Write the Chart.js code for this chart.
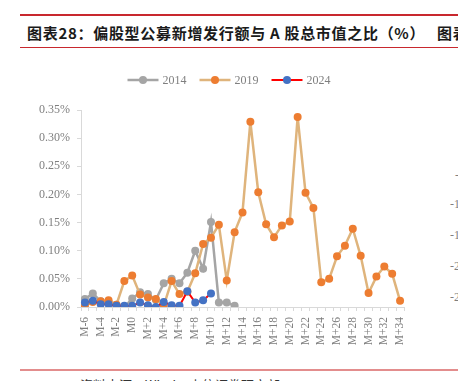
<!DOCTYPE html>
<html>
<head>
<meta charset="utf-8">
<script src="https://cdn.jsdelivr.net/npm/chart.js@4.4.0/dist/chart.umd.min.js"></script>
<style>
  html, body { margin:0; padding:0; background:#fff; }
  body { width:458px; height:381px; position:relative; overflow:hidden; }
  .rule { position:absolute; left:20px; right:0; }
  #title { position:absolute; top:22px; left:27px; font:bold 15px "Noto Sans CJK SC", sans-serif; letter-spacing:0.7px; color:#1a1a1a; white-space:nowrap; }
  #title2 { position:absolute; top:22px; left:437px; font:bold 15px "Noto Sans CJK SC", sans-serif; letter-spacing:0.7px; color:#1a1a1a; white-space:nowrap; }
  #source { position:absolute; top:375px; left:80px; font:13px "Noto Sans CJK SC", sans-serif; color:#333; white-space:nowrap; }
  .side { position:absolute; font:12px "Liberation Serif", serif; color:#7f7f7f; white-space:nowrap; }
  #c { position:absolute; left:0; top:0; }
</style>
</head>
<body>
<div class="rule" style="top:14px;height:2px;background:#c8282e;"></div>
<div id="title">图表28：偏股型公募新增发行额与 A 股总市值之比（%）</div>
<div id="title2">图表29：</div>
<div class="rule" style="top:47px;height:1px;background:#c8282e;"></div>
<div class="rule" style="top:369px;height:2px;background:#e38d8d;"></div>
<div id="source">资料来源：Wind，中信证券研究部</div>
<div class="side" style="top:168px;left:455px;">-5%</div>
<div class="side" style="top:197px;left:450px;">-10%</div>
<div class="side" style="top:228px;left:450px;">-15%</div>
<div class="side" style="top:259px;left:450px;">-20%</div>
<div class="side" style="top:290px;left:450px;">-25%</div>
<canvas id="c" width="458" height="381"></canvas>
<script>
// months relative to the start, M-6 .. M+34
var months = [];
for (var m = -6; m <= 34; m++) {
	months.push(m < 0 ? 'M' + m : (m == 0 ? 'M0' : 'M+' + m));
}

var yTicks = [0, 0.05, 0.10, 0.15, 0.20, 0.25, 0.30, 0.35];

// values in %
var v2014 = [0.014, 0.024, 0.010, 0.008, 0.004, 0.000, 0.015, 0.026, 0.023, 0.013,
	0.042, 0.050, 0.042, 0.061, 0.100, 0.068, 0.151, 0.008, 0.008, 0.002];

var v2019 = [0.002, 0.009, 0.010, 0.012, 0.004, 0.046, 0.056, 0.022, 0.017, 0.014,
	0.002, 0.046, 0.023, 0.027, 0.060, 0.112, 0.123, 0.146, 0.047, 0.133,
	0.168, 0.329, 0.204, 0.147, 0.124, 0.145, 0.152, 0.3375, 0.203, 0.176,
	0.044, 0.050, 0.090, 0.109, 0.139, 0.091, 0.025, 0.054, 0.072, 0.059,
	0.011];

var v2024 = [0.008, 0.011, 0.005, 0.005, 0.002, 0.002, 0.002, 0.008, 0.003, 0.000,
	0.009, 0.003, 0.002, 0.028, 0.008, 0.012, 0.024];

const axisFont = { family: 'Liberation Serif', size: 12 };
const tickColor = '#7f7f7f';
const lineGrey = '#d9d9d9';

// legend: line with a marker in the middle, like the office chart
const lineLegend = {
	id: 'lineLegend',
	afterDraw(chart) {
		const c = chart.ctx;
		const sets = chart.data.datasets;
		c.save();
		c.font = '12px "Liberation Serif"';
		c.textBaseline = 'middle';
		var widths = sets.map(function (d) { return 31 + 4 + c.measureText(d.label).width; });
		var total = widths.reduce(function (a, b) { return a + b; }, 0) + 13 * (sets.length - 1);
		var x = chart.width / 2 - total / 2;
		var y = 80;
		sets.forEach(function (d, i) {
			c.strokeStyle = d.borderColor;
			c.lineWidth = d.borderWidth;
			c.beginPath();
			c.moveTo(x, y);
			c.lineTo(x + 31, y);
			c.stroke();
			c.fillStyle = d.pointBackgroundColor;
			c.beginPath();
			c.arc(x + 15.5, y, 4, 0, Math.PI * 2);
			c.fill();
			c.fillStyle = tickColor;
			c.fillText(d.label, x + 35, y + 1);
			x += widths[i] + 13;
		});
		c.restore();
	}
};

var chart = new Chart(document.getElementById('c').getContext('2d'), {
	type: 'line',
	data: {
		labels: months,
		datasets: [
			{
				label: '2014',
				data: v2014,
				borderColor: '#a5a5a5',
				borderWidth: 2.5,
				pointBackgroundColor: '#a5a5a5',
				pointBorderWidth: 0,
				pointRadius: 4,
				order: 2
			},
			{
				label: '2019',
				data: v2019,
				borderColor: '#dfb47c',
				borderWidth: 2.5,
				pointBackgroundColor: '#ed7d31',
				pointBorderWidth: 0,
				pointRadius: 4,
				order: 1
			},
			{
				label: '2024',
				data: v2024,
				borderColor: '#ff0000',
				borderWidth: 2,
				pointBackgroundColor: '#4472c4',
				pointBorderWidth: 0,
				pointRadius: 4,
				order: 0
			}
		]
	},
	options: {
		responsive: false,
		animation: false,
		layout: { padding: { top: 110, right: 54, left: 0, bottom: 0 } },
		plugins: {
			legend: { display: false },
			tooltip: { enabled: false }
		},
		scales: {
			x: {
				offset: true,
				grid: {
					display: true,
					offset: true,
					drawOnChartArea: false,
					drawTicks: true,
					tickLength: 4,
					color: lineGrey
				},
				border: { display: true, color: lineGrey, width: 1 },
				ticks: {
					autoSkip: false,
					minRotation: 90,
					maxRotation: 90,
					padding: 6,
					color: tickColor,
					font: { family: 'Liberation Serif', size: 11.5 },
					callback: function (val, i) {
						return i % 2 == 0 ? this.getLabelForValue(val) : '';
					}
				},
				afterFit: function (scale) { scale.height = 74; }
			},
			y: {
				min: 0,
				max: 0.35,
				afterBuildTicks: function (scale) {
					scale.ticks = yTicks.map(function (v) { return { value: v }; });
				},
				grid: {
					display: true,
					drawOnChartArea: false,
					drawTicks: true,
					tickLength: 4,
					color: lineGrey
				},
				border: { display: true, color: lineGrey, width: 1 },
				ticks: {
					padding: 7,
					color: tickColor,
					font: axisFont,
					callback: function (v) { return v.toFixed(2) + '%'; }
				},
				afterFit: function (scale) { scale.width = 81; }
			}
		}
	},
	plugins: [lineLegend]
});
</script>
</body>
</html>
